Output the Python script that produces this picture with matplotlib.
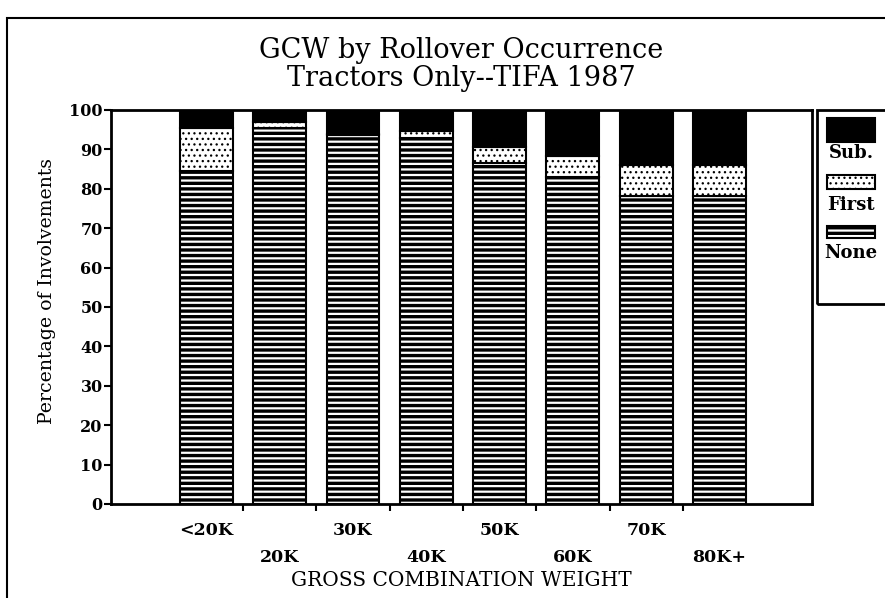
import matplotlib
matplotlib.use("Agg")
import matplotlib.pyplot as plt
from matplotlib.patches import Rectangle
import numpy as np

# %% data (percent of involvements)
categories = ['<20K', '20K', '30K', '40K', '50K', '60K', '70K', '80K+']
none_pct = [84.5, 95.5, 93.7, 92.8, 86.5, 83.1, 78.2, 78.2]
first_pct = [11.0, 1.5, 0.3, 1.9, 4.0, 5.1, 7.8, 7.8]
sub_pct = [4.5, 3.0, 6.0, 5.3, 9.5, 11.8, 14.0, 14.0]

series = [('None', none_pct), ('First', first_pct), ('Sub.', sub_pct)]

# %% style
plt.rcParams['font.family'] = ['DejaVu Serif']
styles = {
    'None': dict(facecolor='black', edgecolor='white', hatch='---'),
    'First': dict(facecolor='white', edgecolor='black', hatch='...'),
    'Sub.': dict(facecolor='black', edgecolor='black', hatch=None),
}
hatch_lw = {'None': 1.6, 'First': 0.9, 'Sub.': 1.0}

fig = plt.figure(figsize=(8.85, 5.98), dpi=100)
ax = fig.add_axes([0.1254, 0.1572, 0.792, 0.6589])

x = np.arange(len(categories))
width = 0.72
bottom = np.zeros(len(categories))
for name, vals in series:
    vals = np.array(vals)
    with plt.rc_context({'hatch.linewidth': hatch_lw[name]}):
        ax.bar(x, vals, width, bottom=bottom, linewidth=0, **styles[name])
    ax.bar(x, vals, width, bottom=bottom, fill=False, edgecolor='black', linewidth=1.5)
    bottom += vals

ax.set_xlim(-1.3, 8.26)
ax.set_ylim(0, 100)
ax.set_yticks(range(0, 101, 10))
ax.set_yticklabels([str(v) for v in range(0, 101, 10)], fontsize=11.5, fontweight='bold')
ax.set_xticks(x[:-1] + 0.5)
ax.set_xticklabels([])
ax.tick_params(axis='both', direction='out', length=5, width=1.5)
ax.tick_params(axis='y', pad=1)
for s in ax.spines.values():
    s.set_linewidth(2)

# staggered category labels
for i, lab in enumerate(categories):
    ax.text(x[i], -0.068 if i % 2 == 0 else -0.135, lab, transform=ax.get_xaxis_transform(),
            ha='center', va='center', fontsize=12.5, fontweight='bold')

ax.text(0.5, -0.195, 'GROSS COMBINATION WEIGHT', transform=ax.transAxes,
        ha='center', va='center', fontsize=14.5)
ax.set_ylabel('Percentage of Involvements', fontsize=13.6)
ax.yaxis.set_label_coords(-0.078, 0.54)

fig.text(0.5215, 0.915, 'GCW by Rollover Occurrence', ha='center', va='center',
         fontsize=19.5)
fig.text(0.5215, 0.868, 'Tractors Only--TIFA 1987', ha='center', va='center',
         fontsize=19.5)

# legend box drawn at right, partially off the canvas
fig.patches.append(Rectangle((817 / 885, 1 - 304 / 598), 0.2, (304 - 110) / 598,
                             transform=fig.transFigure, fill=False, edgecolor='black',
                             linewidth=2))
leg_items = [('Sub.', 118, 142, 153), ('First', 175, 189, 205), ('None', 226, 238, 253)]
for name, top, bot, ty in leg_items:
    st = styles[name]
    with plt.rc_context({'hatch.linewidth': hatch_lw[name]}):
        fig.patches.append(Rectangle((827 / 885, 1 - bot / 598), 48 / 885, (bot - top) / 598,
                                     transform=fig.transFigure, linewidth=0, **st))
    fig.patches.append(Rectangle((827 / 885, 1 - bot / 598), 48 / 885, (bot - top) / 598,
                                 transform=fig.transFigure, fill=False, edgecolor='black',
                                 linewidth=1.5))
    fig.text(851 / 885, 1 - ty / 598, name, ha='center', va='center', fontsize=13,
             fontweight='bold')

# outer frame
fig.patches.append(Rectangle((7 / 885, -0.1), 1.2, 1.1 - 18 / 598, transform=fig.transFigure,
                             fill=False, edgecolor='black', linewidth=1.5))

fig.savefig('out.png', dpi=100)
